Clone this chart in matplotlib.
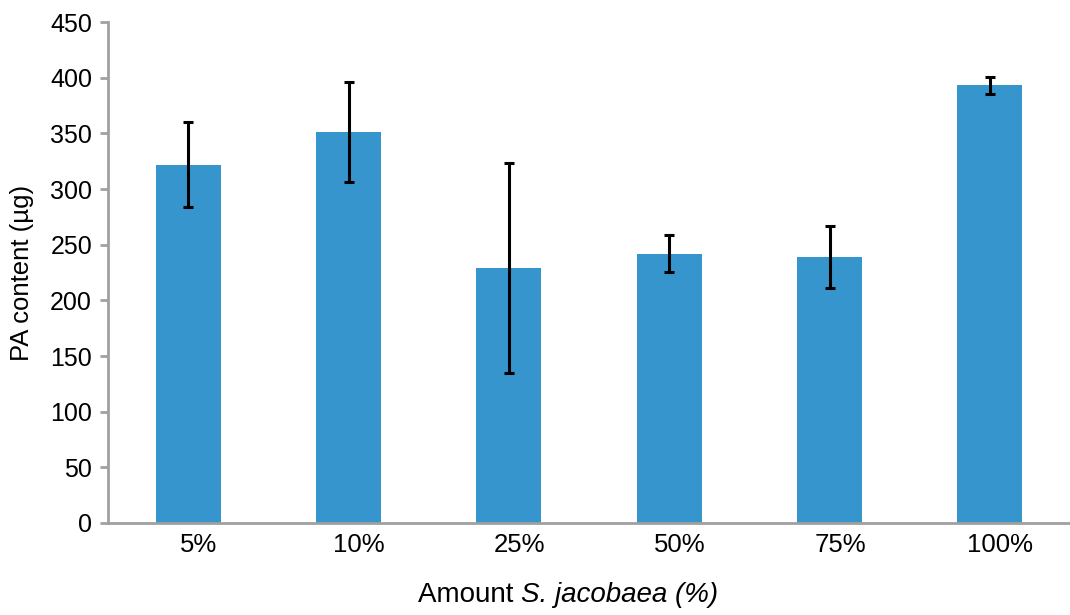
import numpy as np
import matplotlib.pyplot as plt
plt.switch_backend('agg')

plt.rcParams['font.family'] = ['Liberation Sans', 'DejaVu Sans']

####data####
amounts = ['5%', '10%', '25%', '50%', '75%', '100%']
pa_content = [322, 351, 229, 242, 239, 393]
pa_err = [38, 45, 94, 16.5, 27.5, 8]

bar_color = '#3795cd'
axis_grey = '#a0a0a0'

####plot####
fig = plt.figure(figsize=(10.7, 6.15), dpi=100)
ax = fig.add_axes([0.101, 0.1496, 0.899, 0.8146])

x = np.arange(len(amounts))
ax.bar(x, pa_content, width=0.405, color=bar_color, zorder=2)
ax.errorbar(x, pa_content, yerr=pa_err, fmt='none', ecolor='black',
            elinewidth=2.2, capsize=3.4, capthick=2.2, zorder=3)

ax.set_xlim(-0.5, 5.5)
ax.set_ylim(0, 450)
ax.set_yticks(np.arange(0, 451, 50))
# category labels sit a little right of the bar centres (ticks are hidden)
ax.set_xticks(x + 0.065, amounts)

for s in ['top', 'right']:
    ax.spines[s].set_visible(False)
for s in ['left', 'bottom']:
    ax.spines[s].set_color(axis_grey)
    ax.spines[s].set_linewidth(2)

ax.tick_params(axis='y', length=5.5, width=2, color=axis_grey,
               labelsize=18, pad=6)
ax.tick_params(axis='x', length=0, labelsize=18.5, pad=7.5)

ax.set_ylabel('PA content (µg)', fontsize=18.5, va='center')
ax.yaxis.set_label_coords(-0.0899, 0.5)

# x label: plain "Amount" followed by the italic species name
t1 = ax.text(0.3222, -0.1577, 'Amount ', transform=ax.transAxes,
             fontsize=20, ha='left', va='baseline')
ax.annotate('S. jacobaea (%)', xy=(1, 0), xycoords=t1, fontsize=20,
            style='italic', ha='left', va='bottom')

plt.savefig('out.png', dpi=100)
